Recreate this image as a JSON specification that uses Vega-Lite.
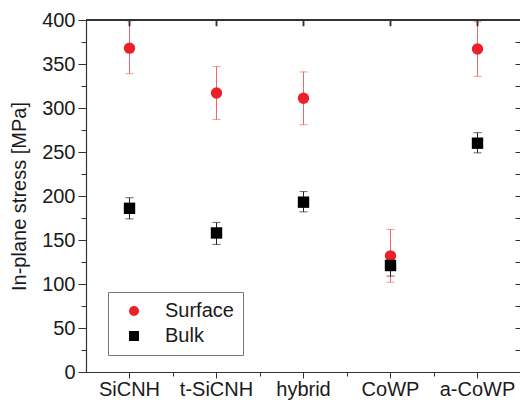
{
  "$schema": "https://vega.github.io/schema/vega-lite/v6.json",
  "width": 435,
  "height": 352,
  "autosize": {"type": "none"},
  "padding": {"left": 86, "top": 20, "right": 0, "bottom": 30},
  "background": "white",
  "config": {
    "view": {"stroke": null},
    "font": "Liberation Sans",
    "axis": {"labelFont": "Liberation Sans", "titleFont": "Liberation Sans", "domainColor": "#333", "tickColor": "#333", "labelColor": "#1a1a1a", "titleColor": "#1a1a1a", "grid": false}
  },
  "data": {
    "values": [
      {"material": "SiCNH", "series": "Surface", "stress": 368, "lo": 339, "hi": 399},
      {"material": "t-SiCNH", "series": "Surface", "stress": 317, "lo": 287, "hi": 347},
      {"material": "hybrid", "series": "Surface", "stress": 311, "lo": 281, "hi": 341},
      {"material": "CoWP", "series": "Surface", "stress": 132, "lo": 102, "hi": 162},
      {"material": "a-CoWP", "series": "Surface", "stress": 367, "lo": 336, "hi": 398},
      {"material": "SiCNH", "series": "Bulk", "stress": 186, "lo": 174, "hi": 198},
      {"material": "t-SiCNH", "series": "Bulk", "stress": 158, "lo": 145, "hi": 170},
      {"material": "hybrid", "series": "Bulk", "stress": 193, "lo": 182, "hi": 205},
      {"material": "CoWP", "series": "Bulk", "stress": 121, "lo": 109, "hi": 132},
      {"material": "a-CoWP", "series": "Bulk", "stress": 260, "lo": 249, "hi": 272}
    ]
  },
  "layer": [
    {
      "mark": {"type": "rule", "strokeWidth": 1},
      "encoding": {
        "x": {"field": "material", "type": "nominal", "sort": ["SiCNH", "t-SiCNH", "hybrid", "CoWP", "a-CoWP"],
          "scale": {"type": "band", "domain": ["SiCNH", "t-SiCNH", "hybrid", "CoWP", "a-CoWP"], "paddingInner": 0, "paddingOuter": 0},
          "axis": {"orient": "bottom", "title": null, "labelAngle": 0, "labelFontSize": 20, "tickSize": 6, "labelPadding": 1, "domainWidth": 1.2}},
        "y": {"field": "lo", "type": "quantitative", "scale": {"domain": [0, 400], "nice": false, "zero": true},
          "axis": {"orient": "left", "values": [0, 50, 100, 150, 200, 250, 300, 350, 400], "title": "In-plane stress [MPa]", "titleFontSize": 20, "titleFontWeight": "normal", "titlePadding": 12, "labelFontSize": 20, "tickSize": 8, "labelPadding": 3, "domainWidth": 1.2}},
        "y2": {"field": "hi"},
        "color": {"condition": {"test": "datum.series === 'Surface'", "value": "#f2666b"}, "value": "#222222"}
      }
    },
    {
      "mark": {"type": "tick", "size": 8, "thickness": 1},
      "encoding": {
        "x": {"field": "material", "type": "nominal", "sort": ["SiCNH", "t-SiCNH", "hybrid", "CoWP", "a-CoWP"],
          "scale": {"type": "band", "domain": ["SiCNH", "t-SiCNH", "hybrid", "CoWP", "a-CoWP"], "paddingInner": 0, "paddingOuter": 0},
          "axis": {"orient": "bottom", "bandPosition": 1, "labels": false, "domain": false, "title": null, "tickSize": 4}},
        "y": {"field": "hi", "type": "quantitative", "scale": {"domain": [0, 400], "nice": false},
          "axis": {"orient": "left", "values": [25, 75, 125, 175, 225, 275, 325, 375], "labels": false, "domain": false, "title": null, "tickSize": 5}},
        "color": {"condition": {"test": "datum.series === 'Surface'", "value": "#f2666b"}, "value": "#222222"}
      }
    },
    {
      "mark": {"type": "tick", "size": 8, "thickness": 1},
      "encoding": {
        "x": {"field": "material", "type": "nominal", "sort": ["SiCNH", "t-SiCNH", "hybrid", "CoWP", "a-CoWP"],
          "scale": {"type": "band", "domain": ["SiCNH", "t-SiCNH", "hybrid", "CoWP", "a-CoWP"], "paddingInner": 0, "paddingOuter": 0},
          "axis": null},
        "y": {"field": "lo", "type": "quantitative", "scale": {"domain": [0, 400], "nice": false},
          "axis": {"orient": "right", "values": [0, 25, 50, 75, 100, 125, 150, 175, 200, 225, 250, 275, 300, 325, 350, 375, 400], "labels": false, "title": null, "tickSize": -6}},
        "color": {"condition": {"test": "datum.series === 'Surface'", "value": "#f2666b"}, "value": "#222222"}
      }
    },
    {
      "mark": {"type": "rule", "color": "#333333", "strokeWidth": 2},
      "encoding": {
        "y": {"datum": 400, "type": "quantitative", "scale": {"domain": [0, 400], "nice": false}, "axis": null}
      }
    },
    {
      "mark": {"type": "rule", "color": "#333333", "strokeWidth": 1.5},
      "encoding": {
        "x": {"field": "material", "type": "nominal", "sort": ["SiCNH", "t-SiCNH", "hybrid", "CoWP", "a-CoWP"],
          "scale": {"type": "band", "domain": ["SiCNH", "t-SiCNH", "hybrid", "CoWP", "a-CoWP"], "paddingInner": 0, "paddingOuter": 0},
          "axis": null},
        "y": {"datum": 400, "type": "quantitative", "scale": {"domain": [0, 400], "nice": false}, "axis": null},
        "y2": {"datum": 393}
      }
    },
    {
      "mark": {"type": "point", "filled": true, "opacity": 1, "size": 130},
      "encoding": {
        "x": {"field": "material", "type": "nominal", "sort": ["SiCNH", "t-SiCNH", "hybrid", "CoWP", "a-CoWP"],
          "scale": {"type": "band", "domain": ["SiCNH", "t-SiCNH", "hybrid", "CoWP", "a-CoWP"], "paddingInner": 0, "paddingOuter": 0},
          "axis": null},
        "y": {"field": "stress", "type": "quantitative", "scale": {"domain": [0, 400], "nice": false}, "axis": null},
        "color": {"field": "series", "type": "nominal", "sort": ["Surface", "Bulk"],
          "scale": {"domain": ["Surface", "Bulk"], "range": ["#ec2028", "#000000"]},
          "legend": {"orient": "none", "legendX": 22, "legendY": 272, "title": null, "labelFontSize": 20, "labelFont": "Liberation Sans", "labelColor": "#1a1a1a", "strokeColor": "#777", "padding": 9, "rowPadding": 5, "symbolSize": 100, "symbolOffset": 7, "labelOffset": 21, "fillColor": "white"}},
        "shape": {"field": "series", "type": "nominal", "sort": ["Surface", "Bulk"],
          "scale": {"domain": ["Surface", "Bulk"], "range": ["circle", "square"]},
          "legend": {"orient": "none", "legendX": 22, "legendY": 272, "title": null, "labelFontSize": 20, "labelFont": "Liberation Sans", "labelColor": "#1a1a1a", "strokeColor": "#777", "padding": 9, "rowPadding": 5, "symbolSize": 100, "symbolOffset": 7, "labelOffset": 21, "fillColor": "white"}},
        "order": {"field": "series", "sort": "descending"}
      }
    }
  ],
  "resolve": {"axis": {"x": "independent", "y": "independent"}}
}
